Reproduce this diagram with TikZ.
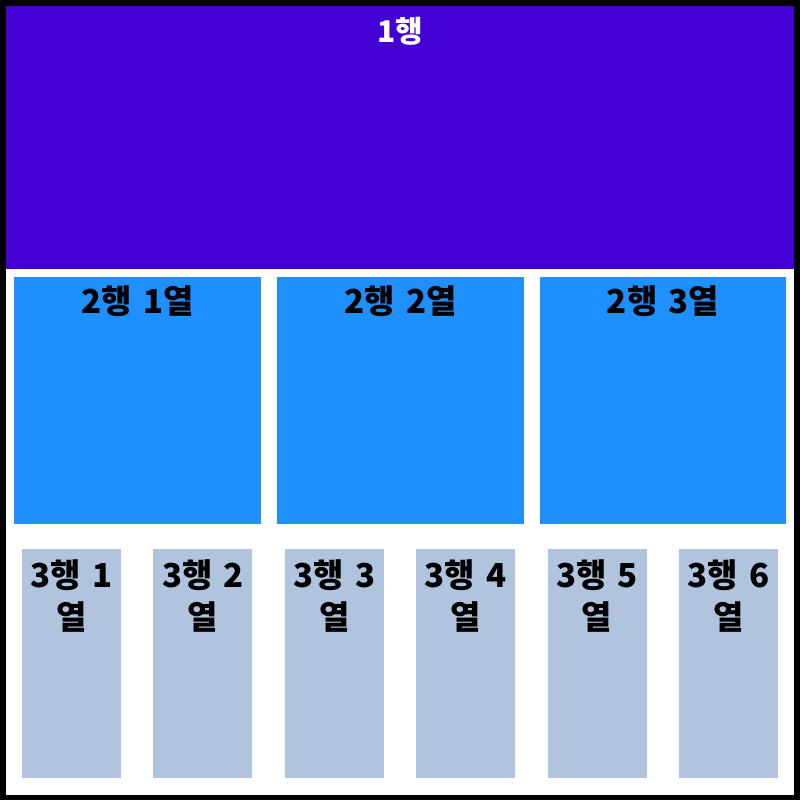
\documentclass[tikz,border=0pt]{standalone}
\usepackage{fontspec}
\setmainfont{Noto Sans CJK KR}
\usetikzlibrary{positioning}
\definecolor{mTopPurple}{HTML}{4400D4}
\definecolor{mMidBlue}{HTML}{1E90FF}
\definecolor{mLowSteel}{HTML}{B0C4DE}
\newcommand{\gap}{\hspace{0.34em}}

\begin{document}
\begin{tikzpicture}[
  x=1pt, y=-1pt,
  cellbox/.style={
    rectangle,
    inner sep=0pt,
    outer sep=0pt,
    anchor=north west
  },
  toptext/.style={
    anchor=base,
    inner sep=0pt,
    text=white,
    font=\bfseries\fontsize{30}{36}\selectfont
  },
  celltext/.style={
    anchor=base,
    inner sep=0pt,
    text=black,
    align=center,
    font=\bfseries\fontsize{33}{42}\selectfont
  }
]

\useasboundingbox (0,0) rectangle (800,800);
\fill[black] (0,0) rectangle (800,800);
\fill[white] (6,6) rectangle (794,795);

% row 1
\node[cellbox, fill=mTopPurple, minimum width=788pt, minimum height=263pt] (r1) at (6,6) {};
\node[toptext, yshift=-37pt] (t1) at (r1.north) {1행};

% row 2
\node[cellbox, fill=mMidBlue, minimum width=247pt, minimum height=247pt] (r2c1) at (14,277) {};
\node[cellbox, fill=mMidBlue, minimum width=247pt, minimum height=247pt] (r2c2) at (277,277) {};
\node[cellbox, fill=mMidBlue, minimum width=246pt, minimum height=247pt] (r2c3) at (540,277) {};
\node[celltext, yshift=-36pt] (t2c1) at (r2c1.north) {2행\gap1열};
\node[celltext, yshift=-36pt] (t2c2) at (r2c2.north) {2행\gap2열};
\node[celltext, yshift=-36pt] (t2c3) at (r2c3.north) {2행\gap3열};

% row 3
\foreach \i in {1,...,6}{
  \node[cellbox, fill=mLowSteel, minimum width=99pt, minimum height=229pt]
    (r3c\i) at ({22+131.4*(\i-1)},549) {};
  \node[celltext, text width=99pt, yshift=-38pt] (t3c\i) at (r3c\i.north) {3행\gap{\i}\\열};
}

\end{tikzpicture}
\end{document}
